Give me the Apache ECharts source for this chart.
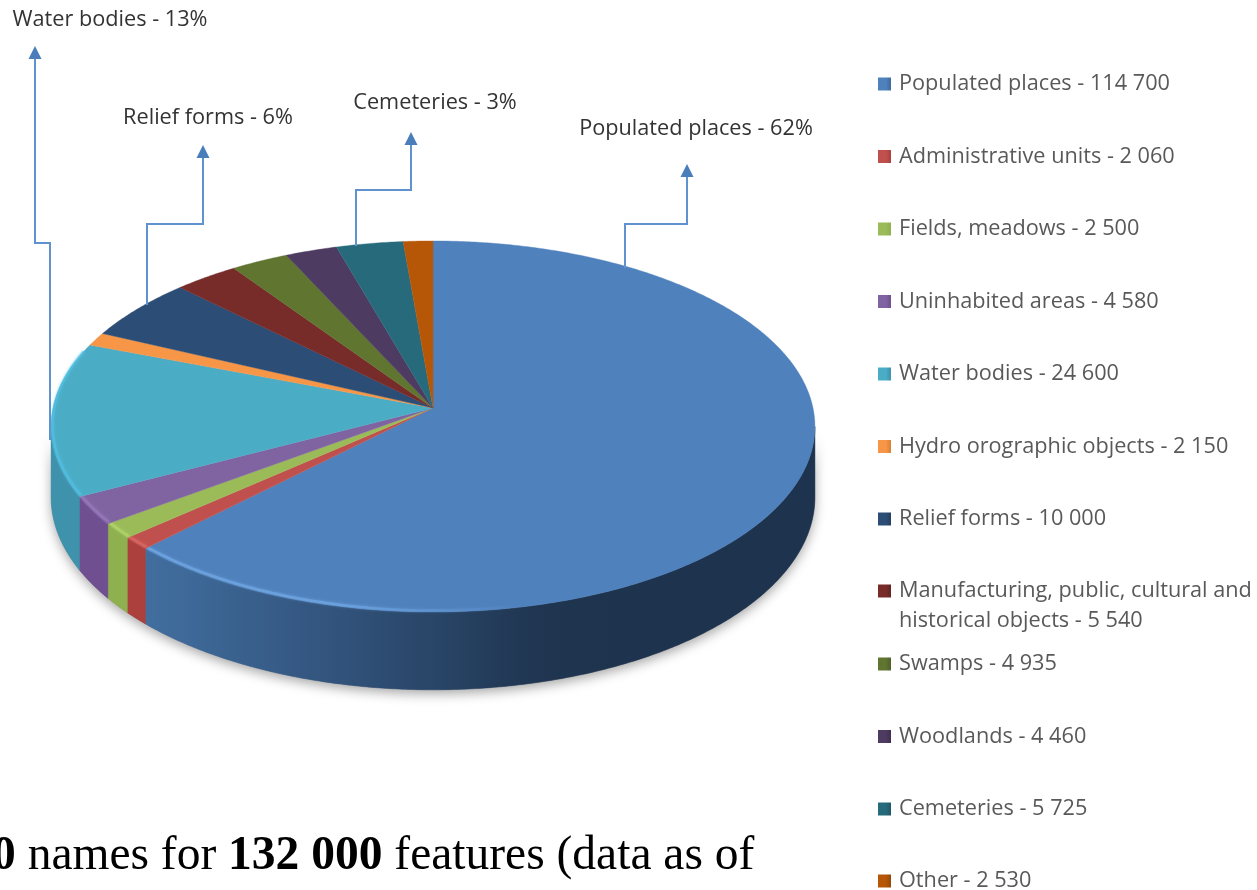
<!DOCTYPE html>
<html>
<head>
<meta charset="utf-8">
<style>html,body{margin:0;padding:0;background:#fff}#c{width:1257px;height:890px}</style>
<script src="https://cdn.jsdelivr.net/npm/echarts@6/dist/echarts.min.js"></script>
</head>
<body>
<div id="c"></div>
<script>
const categories = ['Populated places','Administrative units','Fields, meadows','Uninhabited areas','Water bodies','Hydro orographic objects','Relief forms','Manufacturing, public, cultural and historical objects','Swamps','Woodlands','Cemeteries','Other'];
const values = [114700,2060,2500,4580,24600,2150,10000,5540,4935,4460,5725,2530];
const topColors = ['#4f81bd','#c0504d','#9bbb59','#8064a2','#4bacc6','#f79646','#2c4d75','#772c2a','#5f7530','#4d3b62','#276a7c','#b65708'];
const wallColors = ['#3f6b9c','#ab403d','#8fb04f','#6f4f90','#3f92ac','#d97f35','#24405f','#622422','#4e6127','#3f3050','#205766','#954706'];
const rimColors = ['#74ace8','#e06a66','#b4d86a','#9a7cc0','#52c2e4','#ffb060','#3c6490','#94403c','#7a9440','#64507e','#348aa0','#d87010'];
const calloutNames = ['Water bodies','Relief forms','Cemeteries','Populated places'];
const calloutPercents = [13,6,3,62];

// Layout of the 3D pie: a projected disc
const PIE = {cx:433, cy:408, a:380, b:183.7, k:0.0998, d:70};
const LEADERS = [
  {pts:[[50,440],[50,243],[35,243],[35,58]],   text:[110,20]},
  {pts:[[147,305],[147,224],[203,224],[203,157]], text:[208,118]},
  {pts:[[356,246],[356,190],[411,190],[411,144]], text:[435,103]},
  {pts:[[625,268],[625,224],[687,224],[687,176]], text:[696,129]}
];
const LEGEND_FONT = 'Open Sans';

const total = values.reduce((s,v)=>s+v,0);
const RAD = Math.PI/180;
const starts = []; let acc = 0;
values.forEach(v=>{starts.push(acc/total*360); acc+=v;});
const proj = (deg,depth)=>{
  const u=Math.sin(deg*RAD), v=-Math.cos(deg*RAD), w=1-PIE.k*v;
  return [PIE.cx+PIE.a*u/w, PIE.cy+PIE.b*v/w+(depth?PIE.d/w:0)];
};
const arc = (a0,a1,depth)=>{
  const out=[]; const n=Math.max(2,Math.ceil((a1-a0)*2));
  for(let i=0;i<=n;i++) out.push(proj(a0+(a1-a0)*i/n,depth));
  return out;
};
const tangent = Math.acos(PIE.k)/RAD;           // silhouette offset from the horizontal
const wallFrom = 90+(90-tangent), wallTo = 360-wallFrom;
const fmt = v=>String(v).replace(/\B(?=(\d{3})+$)/g,' ');
const G = echarts.graphic;
const hGrad = (x0,x1,stops)=>new G.LinearGradient(x0,0,x1,0,stops,true);

const sliceSeries = categories.map((name,i)=>({
  type:'custom', name, coordinateSystem:'none', silent:true, animation:false, z:3,
  itemStyle:{color:topColors[i]},
  data:[values[i]],
  renderItem(){
    const a0=starts[i], a1=a0+values[i]/total*360, kids=[];
    const w0=Math.max(a0,wallFrom), w1=Math.min(a1,wallTo);
    if(w1>w0){
      const fill = i===0
        ? hGrad(148,640,[{offset:0,color:'#416e9f'},{offset:0.4,color:'#31527a'},{offset:0.8,color:'#1f3550'},{offset:1,color:'#1e334d'}])
        : wallColors[i];
      kids.push({type:'polygon',shape:{points:arc(w0,w1,false).concat(arc(w0,w1,true).reverse())},style:{fill,stroke:fill,lineWidth:0.5}});
    }
    kids.push({type:'polygon',shape:{points:[[PIE.cx,PIE.cy]].concat(arc(a0,a1,false))},style:{fill:topColors[i],stroke:topColors[i],lineWidth:0.4}});
    const r0=Math.max(a0,100), r1=Math.min(a1,288);
    if(r1>r0){
      const stroke = i===0
        ? hGrad(150,520,[{offset:0,color:rimColors[0]},{offset:0.5,color:rimColors[0]},{offset:1,color:'rgba(116,172,232,0)'}])
        : rimColors[i];
      const pts=arc(r0,r1,false).map(p=>[p[0]+(p[0]<PIE.cx?1.5:-1),p[1]-1.5]);
      kids.push({type:'polyline',shape:{points:pts},style:{fill:null,stroke,lineWidth:2.5,opacity:0.6,shadowBlur:3,shadowColor:rimColors[i]}});
    }
    return {type:'group',children:kids};
  }
}));

const shadowSeries = {
  type:'custom', name:'shadow', coordinateSystem:'none', silent:true, animation:false, z:2, data:[0],
  renderItem(){
    return {type:'polygon',shape:{points:arc(wallFrom,wallTo,false).concat(arc(wallFrom,wallTo,true).reverse())},
      style:{fill:'#888',shadowBlur:12,shadowColor:'rgba(0,0,0,0.35)',shadowOffsetY:4}};
  }
};

const leaderSeries = {
  type:'custom', name:'leaders', coordinateSystem:'none', silent:true, animation:false, z:4,
  data:calloutNames.map((n,i)=>i),
  renderItem(params){
    const i=params.dataIndex, L=LEADERS[i], end=L.pts[L.pts.length-1];
    return {type:'group',children:[
      {type:'polyline',shape:{points:L.pts},style:{fill:null,stroke:'#5f92cf',lineWidth:2}},
      {type:'polygon',shape:{points:[[end[0],end[1]-12],[end[0]-6.5,end[1]+1],[end[0]+6.5,end[1]+1]]},style:{fill:'#4a7ebb'}},
      {type:'text',style:{x:L.text[0],y:L.text[1],text:calloutNames[i]+' - '+calloutPercents[i]+'%',
        fill:'#333',font:'21.7px "'+LEGEND_FONT+'"',align:'center',verticalAlign:'middle'}}
    ]};
  }
};

const legendIcon = i=>({
  name:categories[i],
  itemStyle:{color:new G.LinearGradient(0,0,1,0,[{offset:0,color:topColors[i]},{offset:0.6,color:topColors[i]},{offset:1,color:wallColors[i]}])}
});
const legendFormatter = name=>{
  const i=categories.indexOf(name);
  const t=name+' - '+fmt(values[i]);
  return t.indexOf(' historical')>=0 ? '\u00a0\n'+t.replace(' historical','\nhistorical') : t;
};
const legendBase = {
  left:878, orient:'vertical', padding:0, icon:'rect', itemWidth:13, itemHeight:13, itemGap:42.5, selectedMode:false,
  formatter:legendFormatter,
  textStyle:{fontFamily:LEGEND_FONT,fontSize:21.7,color:'#595959',lineHeight:30,padding:[0,0,0,3]}
};
const idx = (a,b)=>categories.map((c,i)=>i).slice(a,b).map(legendIcon);

const chart = echarts.init(document.getElementById('c'),null,{renderer:'canvas'});
chart.setOption({
  backgroundColor:'#fff',
  animation:false,
  legend:[
    Object.assign({},legendBase,{top:69,data:idx(0,7)}),
    Object.assign({},legendBase,{top:546,data:idx(7,8)}),
    Object.assign({},legendBase,{top:649,data:idx(8,11)}),
    Object.assign({},legendBase,{top:866,height:30,data:idx(11,12)})
  ],
  graphic:[{
    type:'text', left:-8, top:833, silent:true,
    style:{
      text:'{b|0} names for {b|132 000} features (data as of',
      fill:'#000',
      font:'47.5px "Liberation Serif"',
      rich:{b:{fontWeight:'bold',fontFamily:'Liberation Serif',fontSize:47.5}}
    }
  }],
  series:[shadowSeries].concat(sliceSeries,[leaderSeries])
});
</script>
</body>
</html>
